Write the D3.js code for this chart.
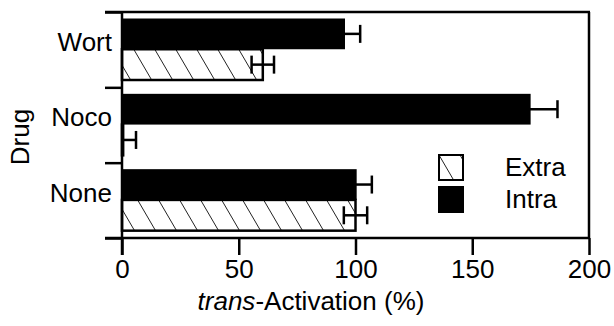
<!DOCTYPE html>
<html>
<head>
<meta charset="utf-8">
<script src="https://cdn.jsdelivr.net/npm/d3@7"></script>
<style>
  body { margin: 0; background: #fff; }
  text { font-family: "Liberation Sans", Arial, sans-serif; fill: #000; }
</style>
</head>
<body>
<script>
// data
var drugs = ["Wort", "Noco", "None"];
var series = ["Intra", "Extra"];
var intraVals = [95.5, 175, 100.5];
var intraErr = [6.5, 11.5, 6.5];
var extraVals = [60.3, 0.5, 100];
var extraErr = [4.8, 5.5, 5];
var xTicks = [0, 50, 100, 150, 200];

var W = 614, H = 326;
var padL = 122, padR = 589, padT = 12, padB = 238;
var lw = 2.5;
var fs = "26px";

var svg = d3.select("body").append("svg")
    .attr("width", W)
    .attr("height", H);

// hatch for the "Extra" bars
var defs = svg.append("defs");
var pat = defs.append("pattern")
    .attr("id", "hatch")
    .attr("patternUnits", "userSpaceOnUse")
    .attr("width", 21)
    .attr("height", 36);
pat.append("rect").attr("width", 21).attr("height", 36).attr("fill", "#fff");
pat.append("path")
    .attr("d", "M0,0L21,36M-21,0L0,36M21,0L42,36")
    .attr("stroke", "#222")
    .attr("stroke-width", 1);

var x = d3.scaleLinear().domain([0, 200]).range([padL, padR]);
var y = d3.scaleBand().domain(drugs).range([padT, padB]).padding(0);
var yb = d3.scaleBand().domain(series).range([6.5, 68]).padding(0);

var rows = drugs.map(function (d, i) {
    return [
        { drug: d, s: "Intra", v: intraVals[i], e: intraErr[i] },
        { drug: d, s: "Extra", v: extraVals[i], e: extraErr[i] }
    ];
});
var flat = [].concat.apply([], rows);

// bars
var g = svg.append("g");
g.selectAll(".bar")
    .data(flat)
    .enter().append("rect")
    .attr("class", "bar")
    .attr("x", x(0))
    .attr("y", function (d) { return y(d.drug) + yb(d.s); })
    .attr("width", function (d) { return x(d.v) - x(0); })
    .attr("height", yb.bandwidth())
    .attr("fill", function (d) { return d.s == "Intra" ? "#000" : "url(#hatch)"; })
    .attr("stroke", function (d) { return d.s == "Intra" ? "none" : "#000"; })
    .attr("stroke-width", lw);

// error bars
var capH = 18;
var eb = g.selectAll(".err")
    .data(flat)
    .enter().append("g")
    .attr("class", "err")
    .attr("transform", function (d) { return "translate(0," + (y(d.drug) + yb(d.s) + yb.bandwidth() / 2) + ")"; })
    .attr("stroke", "#000")
    .attr("stroke-width", lw);
eb.append("line")
    .attr("x1", function (d) { return x(Math.max(0, d.v - d.e)); })
    .attr("x2", function (d) { return x(d.v + d.e); });
eb.append("line")
    .attr("x1", function (d) { return x(d.v + d.e); })
    .attr("x2", function (d) { return x(d.v + d.e); })
    .attr("y1", -capH / 2).attr("y2", capH / 2);
eb.filter(function (d) { return d.v - d.e > 0; }).append("line")
    .attr("x1", function (d) { return x(d.v - d.e); })
    .attr("x2", function (d) { return x(d.v - d.e); })
    .attr("y1", -capH / 2).attr("y2", capH / 2);

// frame: top and right edges
svg.append("line")
    .attr("x1", 105).attr("x2", padR + 1)
    .attr("y1", padT).attr("y2", padT)
    .attr("stroke", "#000").attr("stroke-width", lw);
svg.append("line")
    .attr("x1", padR).attr("x2", padR)
    .attr("y1", padT).attr("y2", padB)
    .attr("stroke", "#000").attr("stroke-width", lw);

// x axis
var xAxis = d3.axisBottom(x)
    .tickValues(xTicks)
    .tickSize(17)
    .tickPadding(5)
    .tickSizeOuter(0);
var xg = svg.append("g")
    .attr("transform", "translate(0," + padB + ")")
    .call(xAxis);
xg.select(".domain").remove();
xg.append("line")
    .attr("x1", 105).attr("x2", padR + 1)
    .attr("stroke", "#000").attr("stroke-width", lw);
xg.selectAll(".tick line").attr("stroke", "#000").attr("stroke-width", lw);
xg.selectAll(".tick text")
    .style("font-size", fs)
    .style("font-family", "Liberation Sans, Arial, sans-serif")
    .attr("fill", "#000");

// y axis: ticks at band edges, labels in bands
var yEdge = d3.scaleLinear().domain([0, 3]).range([padT, padB]);
var yg = svg.append("g")
    .attr("transform", "translate(" + padL + ",0)")
    .call(d3.axisLeft(yEdge).ticks(3).tickSize(17).tickFormat(""));
yg.select(".domain").remove();
yg.selectAll(".tick line").attr("stroke", "#000").attr("stroke-width", lw);
yg.append("line")
    .attr("y1", padT - 1).attr("y2", padB + 17)
    .attr("stroke", "#000").attr("stroke-width", lw);

var yl = svg.append("g")
    .attr("transform", "translate(" + padL + ",-7)")
    .call(d3.axisLeft(y).tickSize(0).tickPadding(10));
yl.select(".domain").remove();
yl.selectAll(".tick text")
    .style("font-size", fs)
    .style("font-family", "Liberation Sans, Arial, sans-serif")
    .attr("fill", "#000");

// axis titles
var xt = svg.append("text")
    .attr("x", 311)
    .attr("y", 310)
    .attr("text-anchor", "middle")
    .style("font-size", fs);
xt.append("tspan").style("font-style", "italic").text("trans");
xt.append("tspan").text("-Activation (%)");

svg.append("text")
    .attr("transform", "translate(29,137) rotate(-90)")
    .attr("text-anchor", "middle")
    .style("font-size", fs)
    .text("Drug");

// legend
var legend = svg.append("g").attr("transform", "translate(439,155)");
var legItems = ["Extra", "Intra"];
legItems.forEach(function (s, i) {
    var row = legend.append("g").attr("transform", "translate(0," + (i * 32) + ")");
    row.append("rect")
        .attr("x", 0).attr("y", 0)
        .attr("width", 24).attr("height", 25)
        .attr("fill", s == "Intra" ? "#000" : "url(#hatch)")
        .attr("stroke", "#000")
        .attr("stroke-width", 2);
    row.append("text")
        .attr("x", 66)
        .attr("y", 21)
        .style("font-size", fs)
        .text(s);
});
</script>
</body>
</html>
